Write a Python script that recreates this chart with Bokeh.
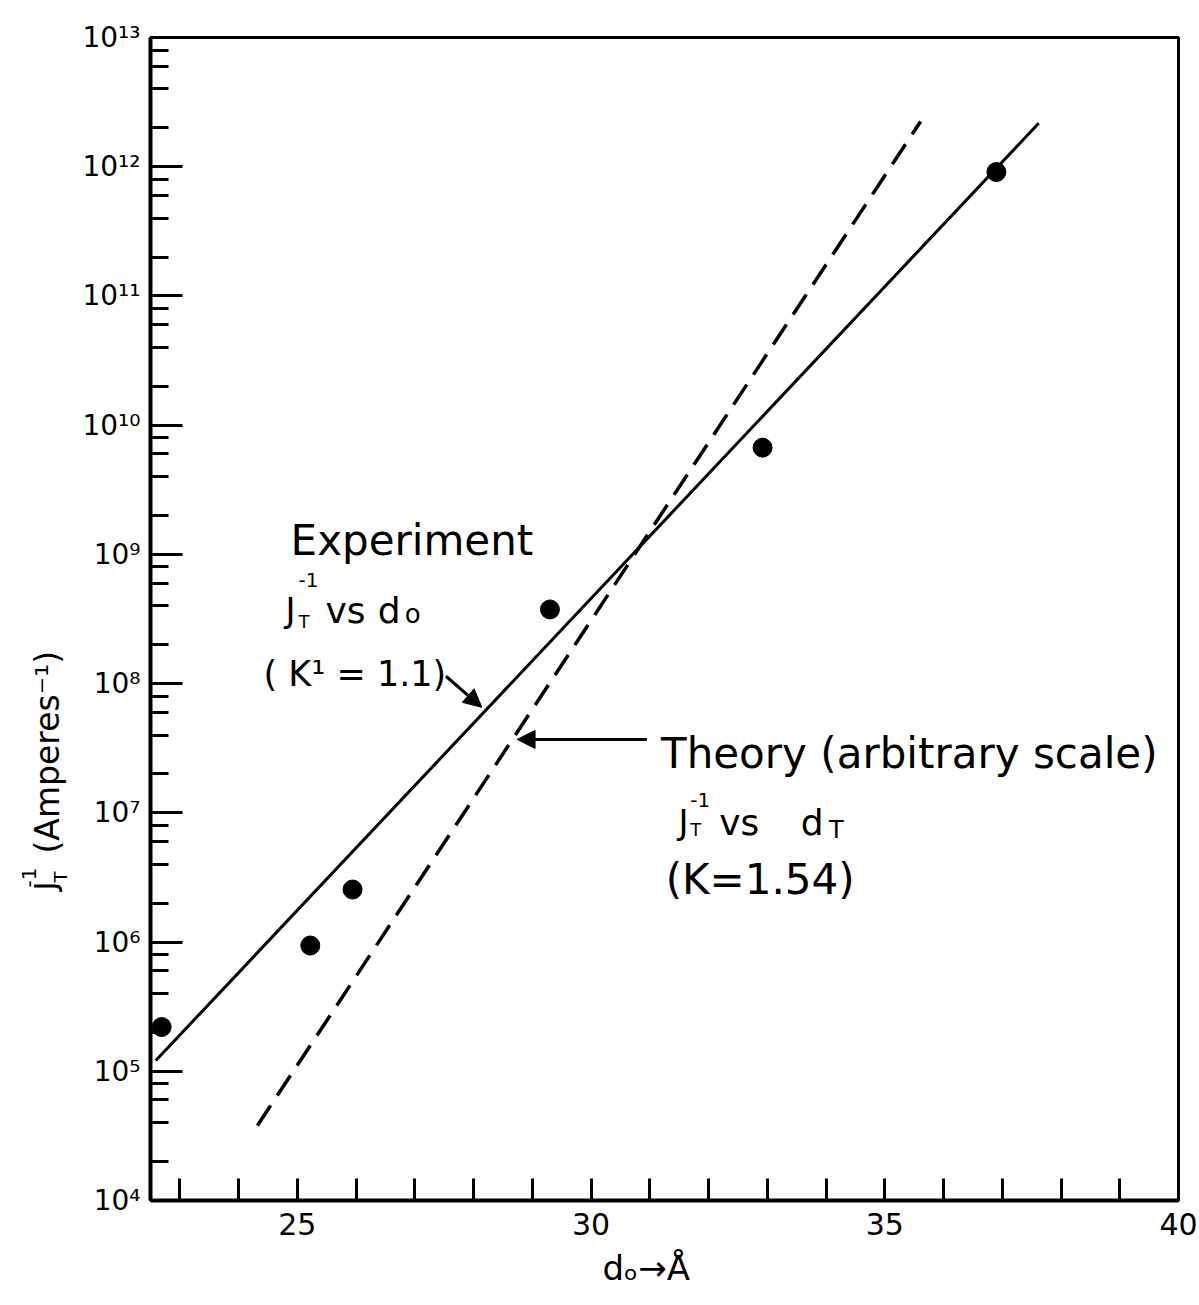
import math
from bokeh.plotting import figure
from bokeh.layouts import row
from bokeh.models import FixedTicker, Label, Arrow, NormalHead, Title
from bokeh.core.properties import value
from bokeh.embed import file_html
from bokeh.resources import INLINE

# ---------------- data ----------------
d_exp = [22.69, 25.22, 25.94, 29.30, 32.92, 36.90]          # d_o (Å)
j_exp = [2.2e5, 9.4e5, 2.55e6, 3.75e8, 6.7e9, 9.1e11]        # J_T^-1 (A^-1)

exp_fit_d = [22.59, 37.62]           # solid line (Experiment, K'=1.1)
exp_fit_j = [1.21e5, 2.17e12]

theory_d = [24.32, 35.61]            # dashed line (Theory, K=1.54)
theory_j = [3.8e4, 2.24e12]

x_major = [25, 30, 35, 40]
x_minor = [23, 24, 26, 27, 28, 29, 31, 32, 33, 34, 36, 37, 38, 39]
y_exponents = [4, 5, 6, 7, 8, 9, 10, 11, 12, 13]
y_tick_labels = ["10⁴", "10⁵", "10⁶", "10⁷", "10⁸", "10⁹", "10¹⁰", "10¹¹", "10¹²", "10¹³"]
y_minor_mult = [2, 4, 6, 8]

FONT = "DejaVu Sans"
LAB_W = 70
TOP, BOTTOM = 37, 105

p = figure(width=1199 - LAB_W, height=1305, x_range=(22.5, 40), y_range=(1e4, 1e13),
           y_axis_type="log", output_backend="svg", toolbar_location=None,
           min_border_left=150 - LAB_W, min_border_right=21, min_border_top=TOP,
           min_border_bottom=BOTTOM, title=None)
p.grid.visible = False
p.outline_line_color = "black"
p.outline_line_width = 3
p.background_fill_color = "white"
p.border_fill_color = "white"

# x axis
xa = p.xaxis[0]
xa.ticker = FixedTicker(ticks=x_major, minor_ticks=x_minor)
xa.axis_line_width = 4
xa.major_tick_in = 22
xa.major_tick_out = 0
xa.minor_tick_in = 22
xa.minor_tick_out = 0
xa.major_tick_line_width = 3
xa.minor_tick_line_width = 3
xa.major_label_text_font = FONT
xa.major_label_text_font_size = "30px"
xa.major_label_text_color = "black"
xa.major_label_standoff = 12

# x-axis title, shifted to where the reference puts it
p.add_layout(Title(text="dₒ→Å", align="left", offset=452, text_font=FONT,
                   text_font_size="34px", text_font_style="normal",
                   text_color="black", standoff=16), "below")

# y axis
ya = p.yaxis[0]
y_major = [10 ** e for e in y_exponents]
y_minor = [m * 10 ** e for e in y_exponents[:-1] for m in y_minor_mult]
ya.ticker = FixedTicker(ticks=y_major, minor_ticks=y_minor)
ya.major_label_overrides = {v: lab for v, lab in zip(y_major, y_tick_labels)}
ya.axis_line_width = 4
ya.major_tick_in = 32
ya.major_tick_out = 0
ya.minor_tick_in = 18
ya.minor_tick_out = 0
ya.major_tick_line_width = 3
ya.minor_tick_line_width = 3
ya.major_label_text_font = FONT
ya.major_label_text_font_size = "28px"
ya.major_label_text_color = "black"
ya.major_label_standoff = 10

# lines and points
p.line(exp_fit_d, exp_fit_j, line_color="black", line_width=3)
p.line(theory_d, theory_j, line_color="black", line_width=3.5, line_dash="24 12")
p.scatter(d_exp, j_exp, size=19, color="black")


def lab(x, y, text, size, angle=0.0):
    p.add_layout(Label(x=x, y=y, text=text, text_font=FONT,
                       text_font_size=f"{size}px", text_color="black",
                       text_baseline="alphabetic", text_align="left",
                       angle=angle))


# Experiment annotation
lab(24.885, 1.28e9, "Experiment", 42)
lab(24.80, 3.69e8, "J", 34)
lab(25.02, 6.3e8, "-1", 20)
lab(25.02, 3.05e8, "T", 18)
lab(25.48, 3.69e8, "vs", 36)
lab(26.37, 3.69e8, "d", 36)
lab(26.83, 3.44e8, "o", 26)
lab(24.425, 1.18e8, "( K¹ = 1.1)", 35)
p.add_layout(Arrow(end=NormalHead(size=18, fill_color="black", line_color="black"),
                   x_start=27.53, y_start=1.14e8, x_end=28.14, y_end=6.55e7,
                   line_width=3, line_color="black"))

# Theory annotation
lab(31.19, 2.89e7, "Theory (arbitrary scale)", 42)
lab(31.49, 8.44e6, "J", 34)
lab(31.69, 1.25e7, "-1", 20)
lab(31.69, 7.43e6, "T", 18)
lab(32.18, 8.44e6, "vs", 36)
lab(33.57, 8.44e6, "d", 36)
lab(34.05, 7.43e6, "T", 24)
lab(31.27, 3.05e6, "(K=1.54)", 42)
p.add_layout(Arrow(end=NormalHead(size=18, fill_color="black", line_color="black"),
                   x_start=30.95, y_start=3.7e7, x_end=28.74, y_end=3.7e7,
                   line_width=3, line_color="black"))

# y-axis title in its own narrow strip; its frame lines up with the main frame,
# so the range is expressed as page rows measured from the bottom of the page
yl = figure(width=LAB_W, height=1305, x_range=(0, LAB_W), y_range=(BOTTOM, 1305 - TOP),
            output_backend="svg", toolbar_location=None, min_border_left=0,
            min_border_right=0, min_border_top=TOP, min_border_bottom=BOTTOM,
            x_axis_location=None, y_axis_location=None, title=None)
yl.grid.visible = False
yl.outline_line_color = None
rot = math.pi / 2
for tx, ty, txt, sz in [(47, 452, "(Amperes⁻¹)", 33),
                        (45, 415, "J", 30),
                        (28, 418, "-1", 20),
                        (60, 423, "T", 18)]:
    yl.text(x=[tx], y=[ty], text=[txt], angle=rot, text_font=value(FONT),
            text_font_size=f"{sz}px", text_color="black",
            text_baseline="alphabetic", text_align="left")

layout = row(yl, p)
open("out.html", "w").write(file_html(layout, INLINE))
